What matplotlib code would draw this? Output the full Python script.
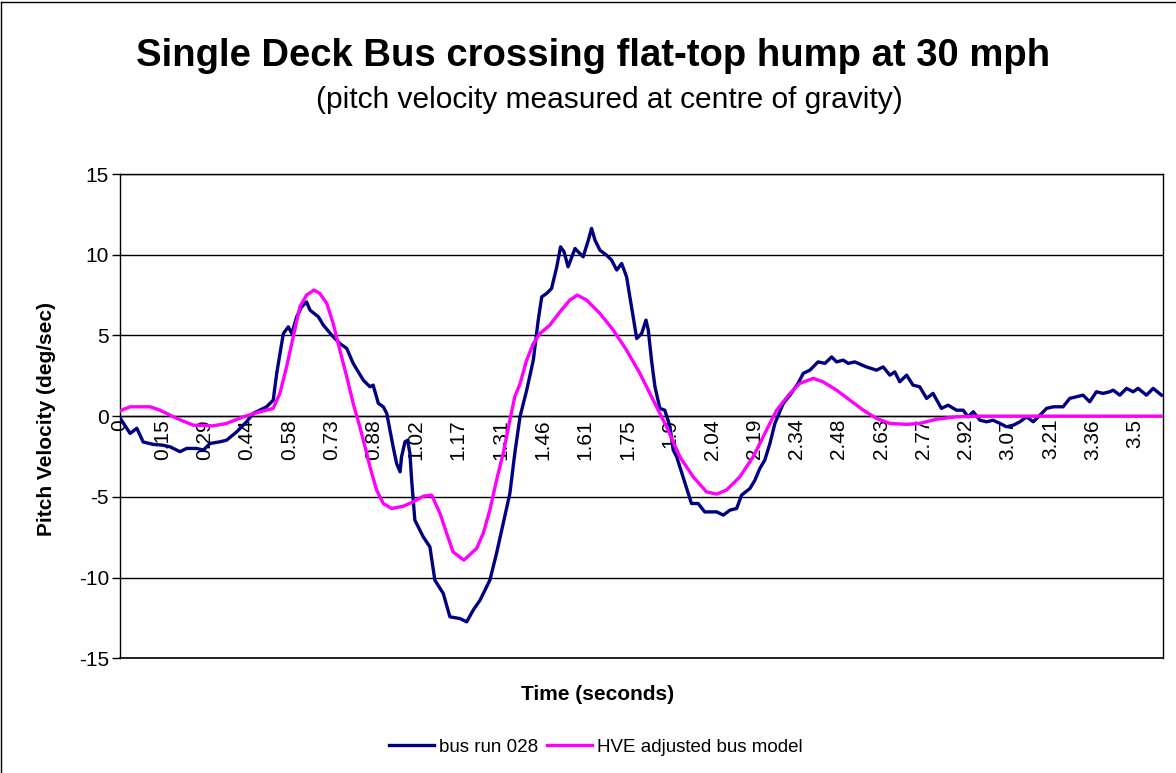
import matplotlib
matplotlib.use("Agg")
import matplotlib.pyplot as plt
from matplotlib.lines import Line2D

plt.rcParams['font.family'] = ['Liberation Sans', 'DejaVu Sans']

# ---- data ----
bus_t = [0.001, 0.035, 0.058, 0.080, 0.115, 0.148, 0.173, 0.207, 0.230, 0.265, 0.288, 0.311,
         0.345, 0.368, 0.403, 0.437, 0.460, 0.506, 0.529, 0.541, 0.564, 0.581, 0.593, 0.610,
         0.627, 0.644, 0.656, 0.685, 0.702, 0.731, 0.759, 0.783, 0.805, 0.840, 0.863, 0.874,
         0.892, 0.909, 0.921, 0.943, 0.955, 0.967, 0.972, 0.984, 0.993, 1.001, 1.007, 1.018,
         1.047, 1.070, 1.087, 1.116, 1.139, 1.174, 1.197, 1.220, 1.243, 1.277, 1.300, 1.323,
         1.346, 1.363, 1.381, 1.404, 1.427, 1.444, 1.456, 1.473, 1.490, 1.508, 1.521, 1.533,
         1.547, 1.571, 1.582, 1.599, 1.617, 1.628, 1.640, 1.657, 1.680, 1.697, 1.715, 1.732,
         1.749, 1.766, 1.784, 1.801, 1.816, 1.824, 1.835, 1.847, 1.864, 1.881, 1.899, 1.910,
         1.922, 1.944, 1.962, 1.973, 1.996, 2.019, 2.060, 2.083, 2.106, 2.129, 2.146, 2.175,
         2.192, 2.209, 2.226, 2.244, 2.261, 2.290, 2.313, 2.341, 2.359, 2.382, 2.410, 2.434,
         2.457, 2.474, 2.497, 2.514, 2.537, 2.577, 2.612, 2.635, 2.658, 2.675, 2.692, 2.716,
         2.738, 2.761, 2.785, 2.807, 2.836, 2.859, 2.888, 2.911, 2.928, 2.946, 2.969, 2.992,
         3.014, 3.038, 3.061, 3.084, 3.107, 3.130, 3.153, 3.176, 3.199, 3.222, 3.256, 3.279,
         3.302, 3.325, 3.348, 3.371, 3.394, 3.417, 3.429, 3.452, 3.475, 3.498, 3.515, 3.544,
         3.567, 3.596]
bus_v = [-0.14, -1.07, -0.75, -1.60, -1.75, -1.80, -1.90, -2.20, -2.00, -2.00, -2.10, -1.69,
         -1.59, -1.49, -0.97, -0.35, 0.17, 0.58, 0.99, 2.65, 5.12, 5.53, 5.12, 6.15,
         6.77, 7.08, 6.57, 6.15, 5.64, 5.02, 4.50, 4.19, 3.27, 2.23, 1.82, 1.92,
         0.79, 0.58, 0.17, -1.90, -2.93, -3.45, -2.52, -1.59, -1.49, -2.31, -3.97, -6.44,
         -7.48, -8.10, -10.16, -10.98, -12.43, -12.54, -12.74, -12.00, -11.40, -10.16, -8.50, -6.65,
         -4.79, -2.31, -0.04, 1.60, 3.47, 5.95, 7.39, 7.60, 7.91, 9.25, 10.49, 10.18,
         9.25, 10.39, 10.18, 9.87, 10.90, 11.63, 10.90, 10.28, 9.97, 9.67, 9.05, 9.46,
         8.63, 6.77, 4.81, 5.12, 5.95, 5.33, 3.47, 1.82, 0.48, 0.37, -0.66, -2.10,
         -2.52, -3.76, -4.79, -5.41, -5.41, -5.93, -5.93, -6.13, -5.82, -5.72, -4.89, -4.48,
         -3.97, -3.24, -2.73, -1.69, -0.45, 0.79, 1.30, 2.03, 2.65, 2.85, 3.36, 3.27,
         3.67, 3.36, 3.47, 3.27, 3.36, 3.05, 2.85, 3.05, 2.54, 2.74, 2.13, 2.54,
         1.92, 1.82, 1.10, 1.41, 0.48, 0.68, 0.37, 0.37, -0.04, 0.27, -0.25, -0.35,
         -0.25, -0.45, -0.66, -0.56, -0.35, -0.04, -0.35, 0.06, 0.48, 0.58, 0.58, 1.10,
         1.20, 1.30, 0.89, 1.51, 1.41, 1.51, 1.61, 1.30, 1.72, 1.51, 1.72, 1.30,
         1.72, 1.30]

hve_t = [0.000, 0.035, 0.104, 0.138, 0.196, 0.253, 0.322, 0.368, 0.426, 0.483, 0.529, 0.552,
         0.575, 0.598, 0.621, 0.644, 0.670, 0.690, 0.714, 0.736, 0.759, 0.783, 0.805, 0.828,
         0.852, 0.863, 0.886, 0.909, 0.938, 0.978, 1.012, 1.047, 1.076, 1.105, 1.128, 1.150,
         1.187, 1.231, 1.254, 1.277, 1.300, 1.323, 1.346, 1.363, 1.381, 1.404, 1.427, 1.450,
         1.484, 1.519, 1.553, 1.579, 1.611, 1.657, 1.703, 1.749, 1.795, 1.841, 1.887, 1.933,
         1.979, 2.025, 2.060, 2.094, 2.140, 2.186, 2.232, 2.267, 2.313, 2.347, 2.393, 2.427,
         2.474, 2.520, 2.566, 2.612, 2.658, 2.716, 2.761, 2.819, 2.888, 2.969, 3.597]
hve_v = [0.33, 0.58, 0.58, 0.37, -0.14, -0.56, -0.60, -0.45, -0.04, 0.27, 0.48, 1.41,
         3.05, 4.91, 6.77, 7.50, 7.81, 7.60, 6.98, 5.74, 4.09, 2.43, 0.79, -0.66,
         -2.31, -3.14, -4.58, -5.41, -5.72, -5.58, -5.31, -4.96, -4.89, -6.03, -7.27, -8.41,
         -8.92, -8.20, -7.27, -5.82, -3.97, -2.31, -0.25, 1.20, 2.00, 3.47, 4.50, 5.12,
         5.64, 6.46, 7.19, 7.50, 7.19, 6.36, 5.33, 4.09, 2.65, 0.99, -0.66, -2.52,
         -3.76, -4.69, -4.83, -4.58, -3.76, -2.52, -0.87, 0.37, 1.41, 2.03, 2.34, 2.13,
         1.61, 0.99, 0.37, -0.14, -0.45, -0.51, -0.45, -0.19, -0.04, 0.00, 0.00]

tick_labels = ['0', '0.15', '0.29', '0.44', '0.58', '0.73', '0.88', '1.02', '1.17', '1.31',
               '1.46', '1.61', '1.75', '1.9', '2.04', '2.19', '2.34', '2.48', '2.63', '2.77',
               '2.92', '3.07', '3.21', '3.36', '3.5']
tick_step = 0.146
y_ticks = [-15, -10, -5, 0, 5, 10, 15]

# ---- figure ----
W, H = 1176, 773
fig = plt.figure(figsize=(W / 100, H / 100), dpi=100)
ax = fig.add_axes([120 / W, 1 - 658.3 / H, (1162.7 - 120) / W, (658.3 - 174) / H])

ax.plot(bus_t, bus_v, color='#000080', lw=2.4, solid_joinstyle='round', label='bus run 028', zorder=3)
ax.plot(hve_t, hve_v, color='#FF00FF', lw=2.4, solid_joinstyle='round', label='HVE adjusted bus model', zorder=4)

ax.set_xlim(0, 3.6)
ax.set_ylim(-15, 15)
ax.spines['bottom'].set_position(('data', 0))

ax.set_yticks(y_ticks)
ax.set_yticklabels([str(v) for v in y_ticks])
ax.yaxis.grid(True, color='black', lw=1.0)
ax.axhline(-15, color='black', lw=1.2, clip_on=False, zorder=1)
ax.set_axisbelow(True)

ax.set_xticks([i * tick_step for i in range(len(tick_labels))])
ax.set_xticklabels(tick_labels)
ax.tick_params(axis='x', length=0, pad=2, labelrotation=90, labelsize=15)
ax.tick_params(axis='y', length=6, width=1, pad=2, direction='out', labelsize=15)
for s in ['top', 'right', 'left', 'bottom']:
    ax.spines[s].set_color('black')
    ax.spines[s].set_linewidth(1.0)

fig.text(593 / W, 1 - 56 / H, 'Single Deck Bus crossing flat-top hump at 30 mph',
         ha='center', va='center', fontsize=27.5, fontweight='bold')
fig.text(609 / W, 1 - 100 / H, '(pitch velocity measured at centre of gravity)',
         ha='center', va='center', fontsize=21.5)
fig.text(47 / W, 1 - 419 / H, 'Pitch Velocity (deg/sec)', rotation=90,
         ha='center', va='center', fontsize=15, fontweight='bold')
fig.text(598 / W, 1 - 695 / H, 'Time (seconds)', ha='center', va='center',
         fontsize=15, fontweight='bold')

fig.legend(loc='center', bbox_to_anchor=(596 / W, 1 - 747 / H), ncol=2, frameon=False,
           fontsize=13.5, handlelength=2.4, handletextpad=0.25, columnspacing=0.5)

# outer chart border (left and top)
fig.add_artist(Line2D([1.5 / W, 1.5 / W], [0, 1 - 1.5 / H], transform=fig.transFigure, color='black', lw=1))
fig.add_artist(Line2D([1.5 / W, 1], [1 - 1.5 / H, 1 - 1.5 / H], transform=fig.transFigure, color='black', lw=1))

fig.savefig('out.png', dpi=100)
